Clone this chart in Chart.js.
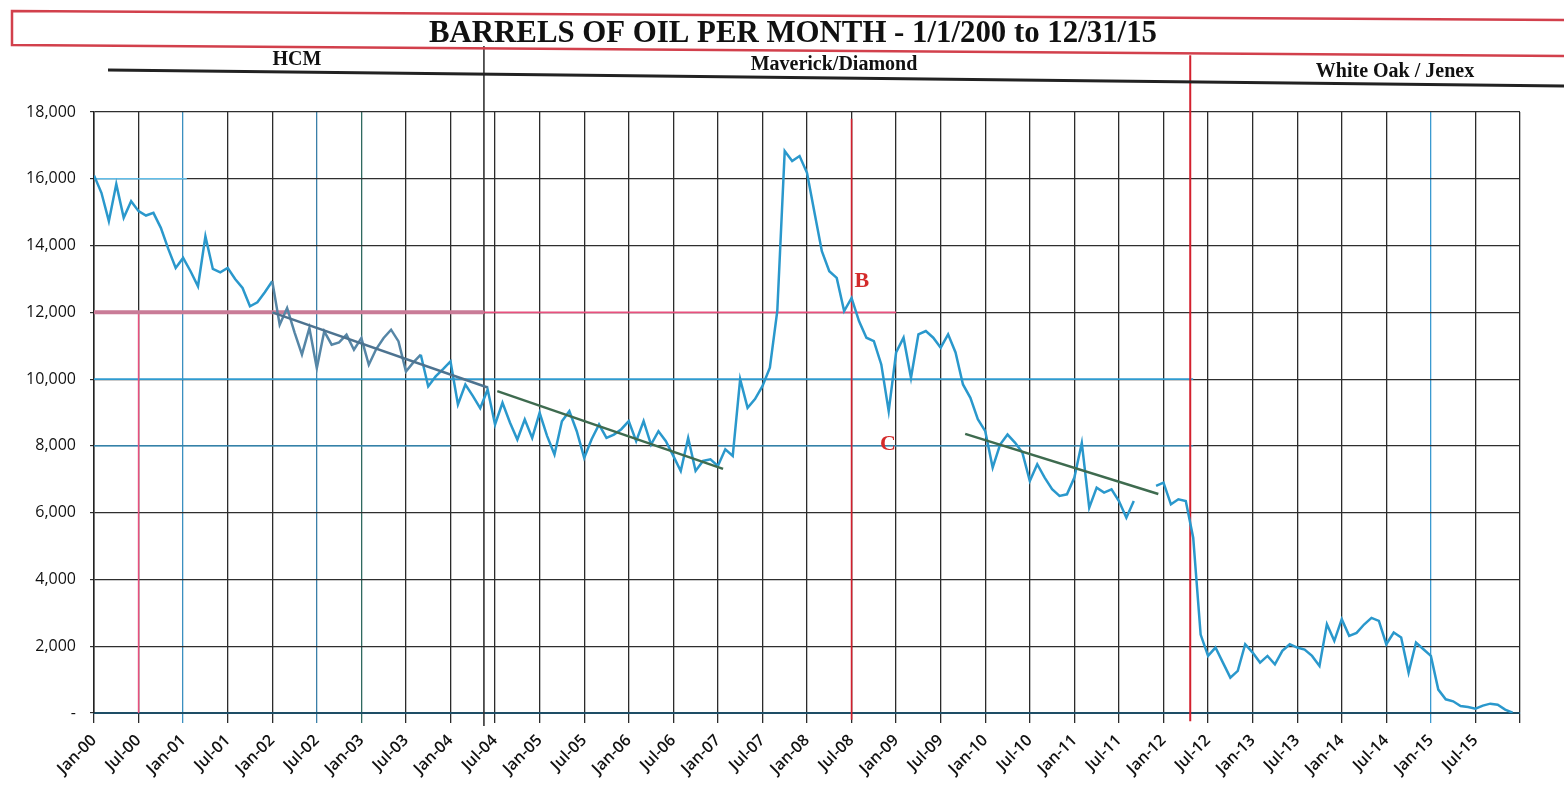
<!DOCTYPE html>
<html>
<head>
<meta charset="utf-8">
<title>Barrels of oil per month</title>
<script src="https://cdn.jsdelivr.net/npm/chart.js@4.4.1/dist/chart.umd.min.js"></script>
<style>
    html, body { margin: 0; padding: 0; background: #fff; }
    #wrap { position: relative; width: 1564px; height: 791px; }
</style>
</head>
<body>
<div id="wrap"><canvas id="oil-chart" width="1564" height="791"></canvas></div>
<script>
// monthly barrels, Jan-00 .. Dec-15
const oil2000 = [16100, 15580, 14730, 15840, 14830, 15330, 15030, 14900, 14980, 14530, 13900, 13330];
const oil2001 = [13630, 13230, 12780, 14280, 13300, 13200, 13330, 13000, 12730, 12180, 12300, 12600];
const oil2002 = [12930, 11630, 12130, 11400, 10740, 11530, 10330, 11430, 11030, 11100, 11330, 10880];
const oil2003 = [11230, 10430, 10900, 11230, 11480, 11130, 10230, 10500, 10730, 9780, 10080, 10300];
const oil2004 = [10530, 9240, 9840, 9500, 9130, 9690, 8640, 9290, 8700, 8190, 8790, 8240];
const oil2005 = [8990, 8300, 7740, 8740, 9040, 8440, 7640, 8200, 8640, 8240, 8340, 8500];
const oil2006 = [8740, 8140, 8740, 8040, 8440, 8140, 7700, 7250, 8240, 7250, 7550, 7600];
const oil2007 = [7400, 7900, 7700, 10000, 9140, 9400, 9790, 10340, 12040, 16830, 16530, 16680];
const oil2008 = [16180, 15000, 13830, 13230, 13030, 12040, 12430, 11740, 11240, 11140, 10440, 9040];
const oil2009 = [10800, 11240, 10040, 11340, 11440, 11240, 10940, 11340, 10800, 9840, 9440, 8800];
const oil2010 = [8440, 7350, 8040, 8340, 8100, 7800, 6950, 7450, 7050, 6700, 6500, 6550];
const oil2011 = [7050, 8090, 6150, 6750, 6600, 6700, 6350, 5850, 6350, null, null, 6800];
const oil2012 = [6900, 6250, 6400, 6350, 5250, 2350, 1710, 1960, 1510, 1060, 1260, 2060];
const oil2013 = [1810, 1510, 1710, 1460, 1860, 2060, 1960, 1900, 1710, 1410, 2660, 2160];
const oil2014 = [2810, 2310, 2400, 2650, 2850, 2760, 2060, 2410, 2260, 1210, 2110, 1910];
const oil2015 = [1710, 700, 410, 350, 210, 180, 130, 220, 280, 250, 100, 10];

const tickLabels = ['Jan-00', 'Jul-00', 'Jan-01', 'Jul-01', 'Jan-02', 'Jul-02', 'Jan-03', 'Jul-03',
    'Jan-04', 'Jul-04', 'Jan-05', 'Jul-05', 'Jan-06', 'Jul-06', 'Jan-07', 'Jul-07',
    'Jan-08', 'Jul-08', 'Jan-09', 'Jul-09', 'Jan-10', 'Jul-10', 'Jan-11', 'Jul-11',
    'Jan-12', 'Jul-12', 'Jan-13', 'Jul-13', 'Jan-14', 'Jul-14', 'Jan-15', 'Jul-15'];

// hand-drawn marks on the printout, in (month index, barrels)
const pinkLevel = [{x: 0, y: 12000}, {x: 108, y: 12000}];
const pinkLevelThick = [{x: 0, y: 12000}, {x: 52.5, y: 12000}];
const pinkDrop = [{x: 6, y: 0}, {x: 6, y: 12000}];
const redJul08 = [{x: 102, y: -200}, {x: 102, y: 17800}];
const redSplit = [{x: 147.6, y: -250}, {x: 147.6, y: 19700}];
const blackSplit = [{x: 52.5, y: -390}, {x: 52.5, y: 19980}];
const trendHcm = [{x: 24, y: 12000}, {x: 53, y: 9750}];
const trendMav1 = [{x: 54.3, y: 9640}, {x: 84.7, y: 7310}];
const trendMav2 = [{x: 117.3, y: 8360}, {x: 143.3, y: 6560}];
const blue16k = [{x: 0, y: 16000}, {x: 12.5, y: 16000}];
const blue10k = [{x: 0, y: 10000}, {x: 148, y: 10000}];
const blue8kLeft = [{x: 0, y: 8000}, {x: 48, y: 8000}];
const blue8kRight = [{x: 84, y: 8000}, {x: 148, y: 8000}];

const letters = [{text: 'B', x: 103.4, y: 12760}, {text: 'C', x: 106.9, y: 7880}];

const chartTitle = 'BARRELS OF OIL PER MONTH - 1/1/200 to 12/31/15';
const periodNames = [
    {name: 'HCM', cx: 297, base: 65, w: 52},
    {name: 'Maverick/Diamond', cx: 834, base: 70, w: 174},
    {name: 'White Oak / Jenex', cx: 1395, base: 77, w: 166}
];

const barrels = [].concat(oil2000, oil2001, oil2002, oil2003, oil2004, oil2005, oil2006, oil2007,
    oil2008, oil2009, oil2010, oil2011, oil2012, oil2013, oil2014, oil2015);
const points = barrels.map((v, i) => ({x: i, y: v}));

function markLine(data, color, width, order) {
    return {
        data: data,
        borderColor: color,
        borderWidth: width,
        pointRadius: 0,
        fill: false,
        clip: false,
        order: order
    };
}

const headerPlugin = {
    id: 'headerPlugin',
    afterDraw(chart) {
        const ctx = chart.ctx;
        const xs = chart.scales.x;
        const ys = chart.scales.y;
        ctx.save();
        // red title box (slightly skewed, like the scan)
        ctx.strokeStyle = '#d2404c';
        ctx.lineWidth = 2.5;
        ctx.beginPath();
        ctx.moveTo(1564, 20);
        ctx.lineTo(12, 11);
        ctx.lineTo(12, 45);
        ctx.lineTo(1564, 56);
        ctx.stroke();

        ctx.fillStyle = '#111';
        ctx.textAlign = 'center';
        ctx.textBaseline = 'alphabetic';
        ctx.font = 'bold 32px "Liberation Serif"';
        ctx.fillText(chartTitle, 793, 42, 728);

        // operator band
        ctx.strokeStyle = '#222';
        ctx.lineWidth = 3;
        ctx.beginPath();
        ctx.moveTo(108, 70);
        ctx.lineTo(1564, 86);
        ctx.stroke();
        ctx.font = 'bold 20px "Liberation Serif"';
        periodNames.forEach(p => ctx.fillText(p.name, p.cx, p.base, p.w));

        ctx.fillStyle = '#d42a2a';
        ctx.font = 'bold 22px "Liberation Serif"';
        letters.forEach(l => ctx.fillText(l.text, xs.getPixelForValue(l.x), ys.getPixelForValue(l.y)));
        ctx.restore();
    }
};

const xGridColors = {2: '#3b8fc0', 5: '#3b7fa8', 6: '#2f6a60', 30: '#3b9ad0'};

const ctx = document.getElementById('oil-chart').getContext('2d');
new Chart(ctx, {
    type: 'line',
    data: {
        datasets: [
            {
                data: points,
                borderColor: '#2a98cc',
                borderWidth: 2.5,
                pointRadius: 0,
                fill: false,
                tension: 0,
                spanGaps: false,
                order: 1,
                segment: {
                    borderColor: c => (c.p0DataIndex >= 24 && c.p0DataIndex < 44) ? '#5686a6' : undefined
                }
            },
            markLine(trendHcm, '#4d7390', 2.5, 0),
            markLine(trendMav1, '#3e6b4f', 2.5, 0),
            markLine(trendMav2, '#3e6b4f', 2.5, 0),
            markLine(pinkLevelThick, '#c97b97', 4, 2),
            markLine(pinkLevel, '#e8507e', 1.8, 2),
            markLine(pinkDrop, '#e8507e', 1.5, 2),
            markLine(redJul08, '#d3202e', 1.6, 2),
            markLine(redSplit, '#d3202e', 2, 2),
            markLine(blackSplit, '#333', 1.6, 2),
            markLine(blue16k, '#62bde8', 1.6, 3),
            markLine(blue10k, '#2f9bd0', 1.6, 3),
            markLine(blue8kLeft, '#3a9ed0', 1.4, 3),
            markLine(blue8kRight, '#3a9ed0', 1.4, 3)
        ]
    },
    options: {
        responsive: false,
        animation: false,
        devicePixelRatio: 1,
        layout: {
            padding: {top: 112, right: 44, left: 0, bottom: 0}
        },
        plugins: {
            legend: {display: false},
            tooltip: {enabled: false}
        },
        scales: {
            x: {
                type: 'linear',
                min: 0,
                max: 192,
                afterFit: scale => { scale.height = 78; },
                afterBuildTicks: scale => {
                    scale.ticks = [];
                    for (let m = 0; m <= 192; m += 6) scale.ticks.push({value: m});
                },
                ticks: {
                    autoSkip: false,
                    maxRotation: 45,
                    minRotation: 45,
                    padding: 8,
                    color: '#111',
                    font: {family: 'Open Sans', size: 16, weight: '600'},
                    callback: v => tickLabels[Math.round(v / 6)] || ''
                },
                grid: {
                    color: c => xGridColors[c.index] || '#2b2b2b',
                    lineWidth: 1.3,
                    tickLength: 10
                },
                border: {color: '#1e4e66', width: 2}
            },
            y: {
                min: 0,
                max: 18000,
                afterFit: scale => { scale.width = 94; },
                ticks: {
                    stepSize: 2000,
                    padding: 14,
                    color: '#111',
                    font: {family: 'Open Sans', size: 16, weight: '500'},
                    callback: v => v === 0 ? '-' : v.toLocaleString('en-US')
                },
                grid: {
                    color: '#2e2e2e',
                    lineWidth: 1.2,
                    tickLength: 4
                },
                border: {color: '#222', width: 1.5}
            }
        }
    },
    plugins: [headerPlugin]
});
</script>
</body>
</html>
